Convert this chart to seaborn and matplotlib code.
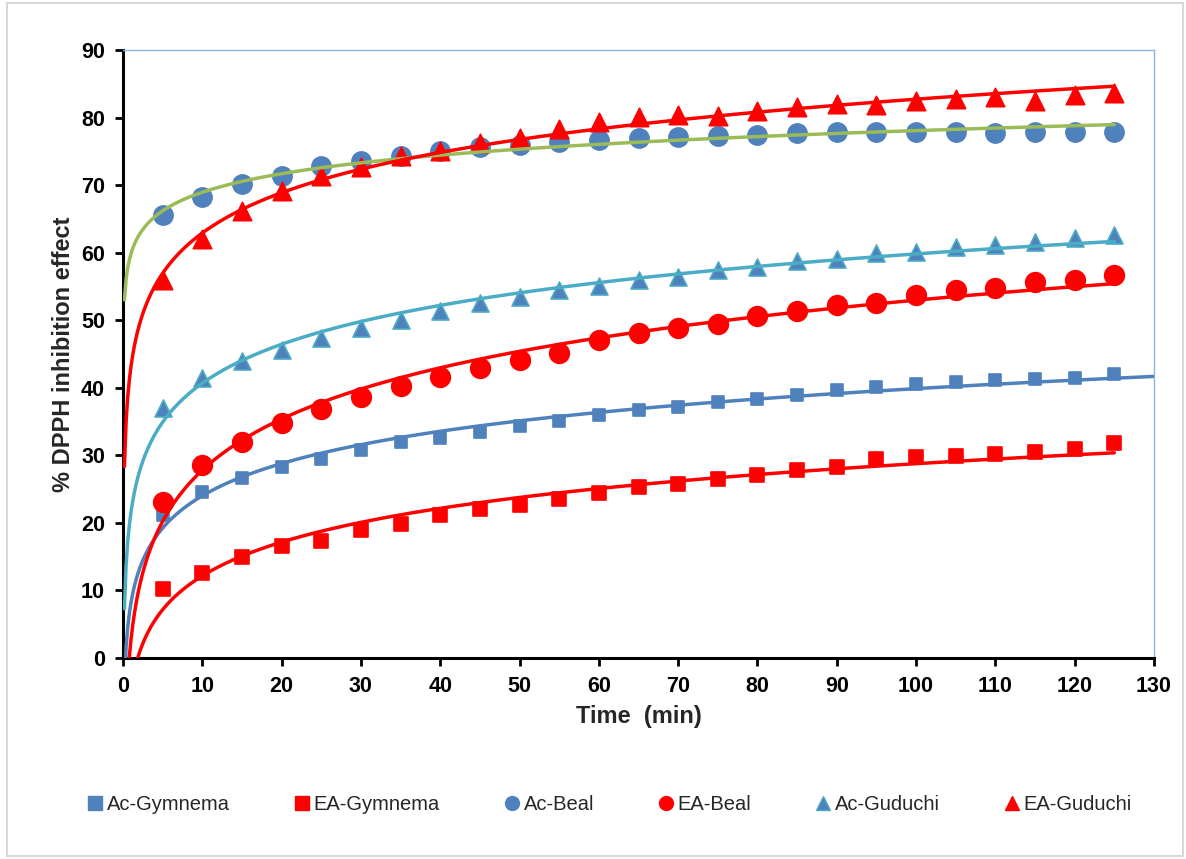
import numpy as np
import pandas as pd
import matplotlib
matplotlib.use("Agg")
import matplotlib.pyplot as plt
from matplotlib.lines import Line2D
from matplotlib.patches import Rectangle
import seaborn as sns

# Sampling times (min)
time_min = [5, 10, 15, 20, 25, 30, 35, 40, 45, 50, 55, 60, 65,
            70, 75, 80, 85, 90, 95, 100, 105, 110, 115, 120, 125]

# % DPPH inhibition for each extract
ac_gymnema = [21.2, 24.6, 26.6, 28.3, 29.4, 30.8, 31.9, 32.6, 33.5, 34.3, 35.1, 36.0, 36.7,
              37.2, 37.9, 38.4, 38.9, 39.7, 40.1, 40.6, 40.9, 41.1, 41.3, 41.4, 42.0]
ea_gymnema = [10.2, 12.6, 15.0, 16.6, 17.3, 19.0, 19.8, 21.2, 22.0, 22.7, 23.5, 24.4, 25.3,
              25.7, 26.5, 27.1, 27.8, 28.2, 29.4, 29.7, 29.9, 30.2, 30.5, 30.9, 31.8]
ac_beal = [65.6, 68.2, 70.2, 71.4, 72.8, 73.6, 74.3, 75.1, 75.6, 75.9, 76.4, 76.7, 76.9,
           77.1, 77.3, 77.4, 77.7, 77.8, 77.8, 77.9, 77.8, 77.7, 77.8, 77.9, 77.9]
ea_beal = [23.1, 28.6, 32.0, 34.8, 36.8, 38.7, 40.2, 41.6, 43.0, 44.1, 45.1, 47.1, 48.1,
           48.9, 49.5, 50.6, 51.3, 52.2, 52.6, 53.8, 54.5, 54.7, 55.7, 56.0, 56.7]
ac_guduchi = [37.0, 41.4, 44.0, 45.6, 47.3, 48.9, 50.0, 51.3, 52.5, 53.5, 54.5, 55.1, 56.0,
              56.4, 57.5, 57.9, 58.7, 59.1, 59.9, 60.1, 60.9, 61.1, 61.6, 62.1, 62.6]
ea_guduchi = [56.0, 62.0, 66.2, 69.1, 71.4, 72.7, 74.3, 75.0, 76.2, 77.0, 78.3, 79.4, 80.1,
              80.4, 80.3, 81.0, 81.6, 82.0, 81.9, 82.4, 82.8, 83.1, 82.4, 83.4, 83.7]

series_names = ["Ac-Gymnema", "EA-Gymnema", "Ac-Beal", "EA-Beal", "Ac-Guduchi", "EA-Guduchi"]
x_ticks = list(range(0, 131, 10))
y_ticks = list(range(0, 91, 10))

BLUE = "#4F81BD"
RED = "#FF0000"
GREEN = "#9BBB59"
TEAL = "#4BACC6"

# name -> (values, marker, size, face, edge, trend colour, trend end)
styles = {
    "Ac-Gymnema": (ac_gymnema, "s", 70, BLUE, BLUE, BLUE, 130),
    "EA-Gymnema": (ea_gymnema, "s", 105, RED, RED, RED, 125),
    "Ac-Beal": (ac_beal, "o", 190, BLUE, BLUE, GREEN, 125),
    "EA-Beal": (ea_beal, "o", 200, RED, RED, RED, 125),
    "Ac-Guduchi": (ac_guduchi, "^", 150, BLUE, TEAL, TEAL, 125),
    "EA-Guduchi": (ea_guduchi, "^", 175, RED, RED, RED, 125),
}

sns.set_theme(style="white")
plt.rcParams["font.family"] = ["Liberation Sans", "DejaVu Sans"]

fig = plt.figure(figsize=(11.86, 8.59), dpi=100)
ax = fig.add_axes([123 / 1186, 1 - 658 / 859, (1154 - 123) / 1186, (658 - 50) / 859])

t = np.array(time_min, dtype=float)

# data markers
for name in series_names:
    vals, mk, sz, face, edge, _, _ = styles[name]
    sns.scatterplot(x=t, y=vals, marker=mk, s=sz, color=face, edgecolor=edge,
                    linewidth=1.2, ax=ax, zorder=3, legend=False)

# logarithmic trend lines (least squares on ln t)
for name in series_names:
    vals, _, _, _, _, tcol, t_end = styles[name]
    slope, icpt = np.polyfit(np.log(t), np.array(vals), 1)
    tt = np.linspace(0.18, t_end, 600)
    trend = pd.DataFrame({"t": tt, "y": slope * np.log(tt) + icpt})
    sns.lineplot(data=trend, x="t", y="y", color=tcol, lw=2.5, ax=ax, zorder=4,
                 legend=False, estimator=None, sort=False)

ax.set_xlim(0, 130)
ax.set_ylim(0, 90)
ax.set_xticks(x_ticks)
ax.set_yticks(y_ticks)
ax.tick_params(axis="both", direction="out", length=6, width=2, colors="black",
               labelsize=15.5, bottom=True, left=True, top=False, right=False)
ax.tick_params(axis="x", pad=7)
ax.tick_params(axis="y", pad=7)
for lab in ax.get_xticklabels() + ax.get_yticklabels():
    lab.set_fontweight("bold")

ax.set_xlabel("Time  (min)", fontsize=17, fontweight="bold", labelpad=6)
ax.set_ylabel("% DPPH inhibition effect", fontsize=17, fontweight="bold", labelpad=4)

for side in ("left", "bottom"):
    ax.spines[side].set_color("black")
    ax.spines[side].set_linewidth(2.2)
for side in ("top", "right"):
    ax.spines[side].set_color("#8EB4E3")
    ax.spines[side].set_linewidth(1.0)
ax.grid(False)

# legend along the bottom
handles = []
for name in series_names:
    vals, mk, sz, face, edge, _, _ = styles[name]
    handles.append(Line2D([], [], ls="", marker=mk, markersize=10,
                          markerfacecolor=face, markeredgecolor=edge,
                          markeredgewidth=1.0, label=name))
fig.legend(handles=handles, loc="center", bbox_to_anchor=(610 / 1186, 1 - 805 / 859),
           ncol=6, frameon=False, fontsize=14.5, handlelength=0.7, handletextpad=0.25,
           columnspacing=3.2)

# outer chart frame
fig.patches.append(Rectangle((7 / 1186, 3 / 859), (1183 - 7) / 1186, (856 - 3) / 859,
                             transform=fig.transFigure, fill=False,
                             edgecolor="#D9D9D9", linewidth=1.5))

fig.savefig("out.png", dpi=100, facecolor="white")
